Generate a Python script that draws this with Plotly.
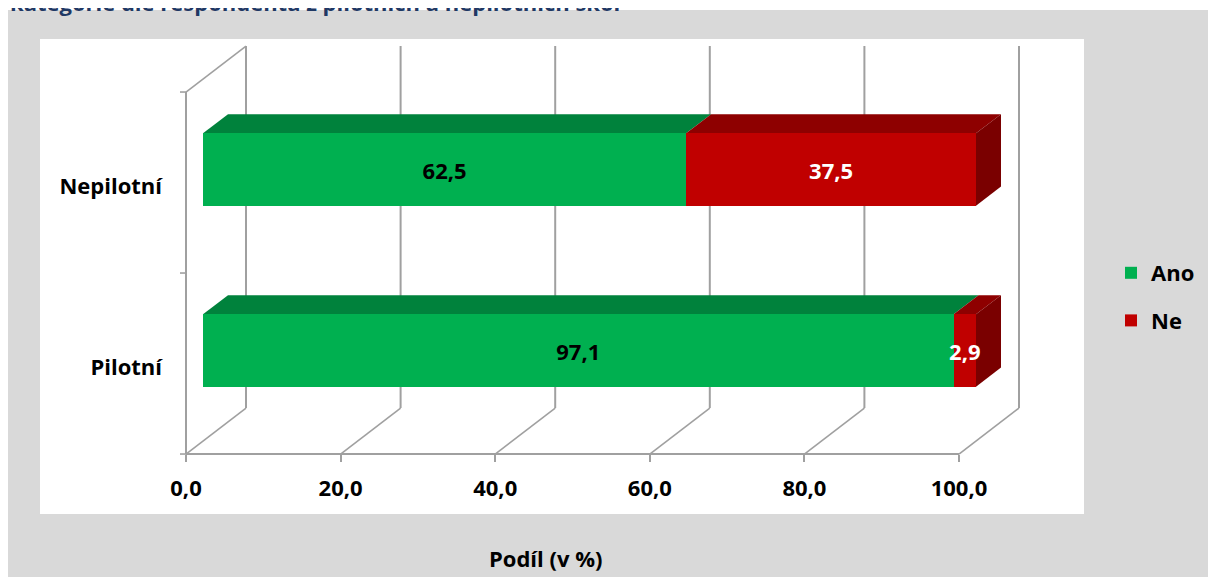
import plotly.graph_objects as go

# ---------------- data ----------------
categories = ["Pilotní", "Nepilotní"]
ano = [97.1, 62.5]
ne = [2.9, 37.5]
series_names = ["Ano", "Ne"]
x_ticks = [0, 20, 40, 60, 80, 100]
x_tick_labels = ["0,0", "20,0", "40,0", "60,0", "80,0", "100,0"]
title_text = "kategorie dle respondenta z pilotních a nepilotních škol"
x_title = "Podíl (v %)"

# ---------------- layout geometry (page pixels; page has an 8px body margin) ----------------
OFF = 8
PAGE_W, PAGE_H = 1216, 577
W, H = PAGE_W - OFF, PAGE_H - OFF


def px(xp):   # page x -> paper fraction
    return (xp - OFF) / W


def py(yp):   # page y -> paper fraction
    return (H - (yp - OFF)) / H


X0_PX, X100_PX = 203, 976          # bar front face: value 0 / 100 (page px)
PX_X = (X100_PX - X0_PX) / 100.0
Y_CAT0_PX = 350.5                  # centre of first category, bar front face (page px)
PX_Y = 181.0
x_range = [-(X0_PX - OFF) / PX_X, (PAGE_W - X0_PX) / PX_X]
y_range = [-(PAGE_H - Y_CAT0_PX) / PX_Y, (Y_CAT0_PX - OFF) / PX_Y]

DX = 60 / PX_X                     # full depth vector (front plane -> back wall)
DY = 46 / PX_Y
F = 17 / 60.0                      # bar front depth fraction
B = 42 / 60.0                      # bar back depth fraction
BAR_W = 0.4
GRID = "#A0A0A0"
FONT = "Open Sans"
FS = 22

cat_pos = list(range(len(categories)))


def plane(v, c, d):
    return v + (d - F) * DX, c + (d - F) * DY


def path(pts):
    return "M " + " L ".join(f"{x},{y}" for x, y in pts) + " Z"


shapes = []
# backgrounds
shapes.append(dict(type="rect", xref="paper", yref="paper", x0=px(8), x1=px(PAGE_W), y0=py(PAGE_H), y1=py(10),
                   fillcolor="#D9D9D9", line=dict(width=0), layer="below"))
shapes.append(dict(type="rect", xref="paper", yref="paper", x0=px(40), x1=px(1084),
                   y0=py(514), y1=py(39), fillcolor="white", line=dict(width=0), layer="below"))

lo, hi = -0.5, len(categories) - 0.5


def seg(p0, p1, w=1.6):
    shapes.append(dict(type="line", xref="x", yref="y", x0=p0[0], y0=p0[1], x1=p1[0], y1=p1[1],
                       line=dict(color=GRID, width=w), layer="below"))


for t in x_ticks:
    seg(plane(t, lo, 1), plane(t, hi, 1), 2)
    seg(plane(t, lo, 0), plane(t, lo, 1))
# left wall
seg(plane(0, lo, 0), plane(0, hi, 0), 2)
seg(plane(0, hi, 0), plane(0, hi, 1))
# front floor axis
seg(plane(0, lo, 0), plane(100, lo, 0), 2)
# left axis tick marks
for c in [lo + k for k in range(len(categories) + 1)]:
    p = plane(0, c, 0)
    seg(p, (p[0] - 6 / PX_X, p[1]), 1.6)

# 3D faces of bars (below the traces so labels stay on top)
front_cols = ["#00B050", "#C00000"]
top_cols = ["#00823C", "#8E0000"]
side_cols = ["#006B30", "#7A0000"]
ddx, ddy = (B - F) * DX, (B - F) * DY
for i, c in enumerate(cat_pos):
    vals = [ano[i], ne[i]]
    start = 0
    for k, v in enumerate(vals):
        x0, x1 = start, start + v
        yt = c + BAR_W / 2
        shapes.append(dict(type="path", xref="x", yref="y",
                           path=path([(x0, yt), (x1, yt), (x1 + ddx, yt + ddy), (x0 + ddx, yt + ddy)]),
                           fillcolor=top_cols[k], line=dict(width=0), layer="below"))
        start = x1
    yb, yt = c - BAR_W / 2, c + BAR_W / 2
    shapes.append(dict(type="path", xref="x", yref="y",
                       path=path([(start, yb), (start, yt), (start + ddx, yt + ddy), (start + ddx, yb + ddy)]),
                       fillcolor=side_cols[-1], line=dict(width=0), layer="below"))

fig = go.Figure()
for name, vals, col, tcol in [(series_names[0], ano, front_cols[0], "black"),
                              (series_names[1], ne, front_cols[1], "white")]:
    fig.add_trace(go.Bar(
        y=cat_pos, x=vals, orientation="h", name=name, legendgroup=name,
        marker=dict(color=col, line=dict(width=0)), width=BAR_W,
        texttemplate="%{x:.1f}", textposition="inside", insidetextanchor="middle",
        textangle=0, constraintext="none", cliponaxis=False,
        textfont=dict(family=FONT, size=FS, color=tcol, weight="bold"),
        hoverinfo="skip",
    ))

front_axis_y = plane(0, lo, 0)[1]
axis_pos = py(Y_CAT0_PX - front_axis_y * PX_Y)
left_axis_x = plane(0, lo, 0)[0]
left_pos = px(X0_PX + left_axis_x * PX_X)

fig.update_layout(
    width=W, height=H, margin=dict(l=0, r=0, t=0, b=0),
    paper_bgcolor="white", plot_bgcolor="rgba(0,0,0,0)",
    barmode="stack", separators=", ", hovermode=False,
    shapes=shapes,
    xaxis=dict(domain=[0, 1], range=x_range, showgrid=False, zeroline=False, showline=False,
               anchor="free", position=axis_pos,
               tickvals=[plane(t, lo, 0)[0] for t in x_ticks], ticktext=x_tick_labels,
               ticks="outside", ticklen=7, tickwidth=2, tickcolor=GRID, ticklabelstandoff=8,
               tickfont=dict(family=FONT, size=FS, color="black", weight="bold"), automargin=False),
    yaxis=dict(domain=[0, 1], range=y_range, showgrid=False, zeroline=False, showline=False,
               anchor="free", position=left_pos,
               tickvals=cat_pos, ticktext=categories, ticks="",
               ticklabelstandoff=24, ticklabelshift=17,
               tickfont=dict(family=FONT, size=FS, color="black", weight="bold"), automargin=False),
    legend=dict(x=px(1111), xanchor="left", y=py(252), yanchor="top",
                font=dict(family=FONT, size=FS, color="black", weight="bold"),
                bgcolor="rgba(0,0,0,0)", tracegroupgap=16, traceorder="grouped"),
    annotations=[
        dict(text=x_title, xref="paper", yref="paper", x=px(545), y=py(558),
             xanchor="center", yanchor="middle",
             showarrow=False, font=dict(family=FONT, size=FS, color="black", weight="bold")),
        dict(text=title_text, xref="paper", yref="paper", x=px(8), y=py(19),
             xanchor="left", yanchor="bottom", showarrow=False,
             font=dict(family=FONT, size=FS, color="#1F3864", weight="bold")),
    ],
)

fig.write_html("out.html")
